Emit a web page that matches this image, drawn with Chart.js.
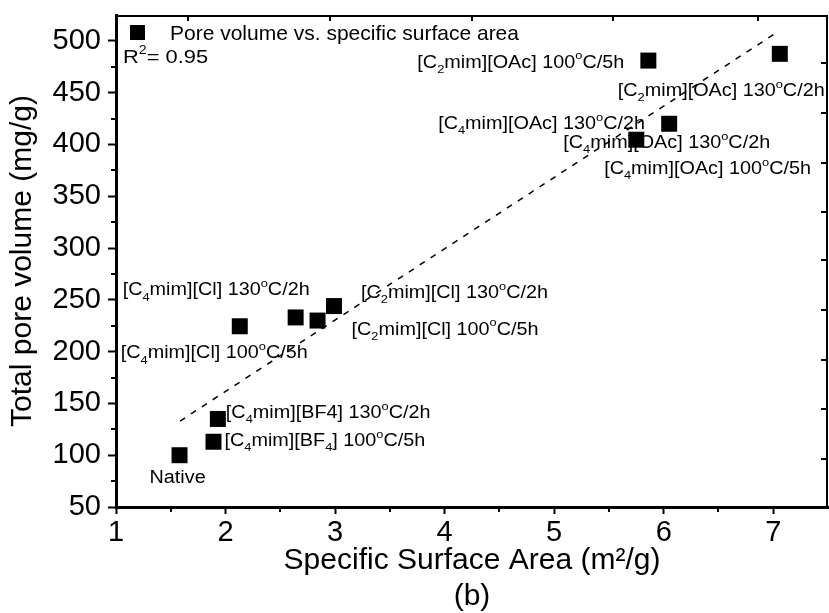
<!DOCTYPE html>
<html>
<head>
<meta charset="utf-8">
<script src="https://cdn.jsdelivr.net/npm/chart.js@4.4.1/dist/chart.umd.min.js"></script>
<style>
  html, body { margin: 0; padding: 0; background: #fff; }
  #wrap { width: 829px; height: 613px; }
</style>
</head>
<body>
<div id="wrap"><canvas id="chart" width="829" height="613"></canvas></div>
<script>
// data
const surfaceArea = [1.58, 1.89, 1.93, 2.13, 2.64, 2.84, 2.99, 5.86, 7.06, 6.05, 5.75];
const poreVolume  = [100, 113, 135, 224.5, 233, 230, 244, 481, 487.5, 420, 404.6];
const fitX = [1.585, 7.03];
const fitY = [133, 508];
const xTicks = [1, 2, 3, 4, 5, 6, 7];
const yTicks = [50, 100, 150, 200, 250, 300, 350, 400, 450, 500];
const xMinor = [1.5, 2.5, 3.5, 4.5, 5.5, 6.5];
const yMinor = [75, 125, 175, 225, 275, 325, 375, 425, 475];
const topTicks = [1.66, 2.95, 4.25, 5.54, 6.86];
const rightTicks = [478.7, 430.4, 382, 334.6, 288, 240, 191.5, 145, 96.7];

// point labels: text, index of the point it belongs to
const labelText = [
  'Native',
  '[C_{4}mim][BF_{4}] 100^{o}C/5h',
  '[C_{4}mim][BF4] 130^{o}C/2h',
  '[C_{4}mim][Cl] 100^{o}C/5h',
  '[C_{4}mim][Cl] 130^{o}C/2h',
  '[C_{2}mim][Cl] 100^{o}C/5h',
  '[C_{2}mim][Cl] 130^{o}C/2h',
  '[C_{2}mim][OAc] 100^{o}C/5h',
  '[C_{2}mim][OAc] 130^{o}C/2h',
  '[C_{4}mim][OAc] 130^{o}C/2h',
  '[C_{4}mim][OAc] 130^{o}C/2h',
  '[C_{4}mim][OAc] 100^{o}C/5h'
];
const labelPoint = [0, 1, 2, 3, 4, 5, 6, 7, 8, 9, 10, 9];
// label offset from its point in px (left edge, baseline)
const labelOffset = [
  [-30, 28], [11, 4], [8, -1], [-119, 32], [-173, -22], [34, 14],
  [27, -8], [-231, 7], [-162, 42], [-231, 5], [-73, 8], [-65, 50]
];

const FONT = '"Liberation Sans", Arial, Helvetica, sans-serif';

function drawRich(ctx, str, x, y, size, sx) {
  ctx.save();
  ctx.translate(x, y);
  ctx.scale(sx, 1);
  ctx.fillStyle = '#000';
  ctx.textBaseline = 'alphabetic';
  ctx.textAlign = 'left';
  let cx = 0;
  const parts = str.split(/(_\{[^}]*\}|\^\{[^}]*\})/);
  for (const p of parts) {
    if (!p) continue;
    let txt = p, fs = size, dy = 0;
    if (p[0] === '_') { txt = p.slice(2, -1); fs = size * 0.65; dy = size * 0.3; }
    else if (p[0] === '^') { txt = p.slice(2, -1); fs = size * 0.65; dy = -size * 0.45; }
    ctx.font = fs + 'px ' + FONT;
    ctx.fillText(txt, cx, dy);
    cx += ctx.measureText(txt).width;
  }
  ctx.restore();
}

const decor = {
  id: 'decor',
  beforeDatasetsDraw(chart) {
    const ctx = chart.ctx;
    const xs = chart.scales.x, ys = chart.scales.y;
    labelText.forEach((t, i) => {
      const k = labelPoint[i];
      const px = xs.getPixelForValue(surfaceArea[k]);
      const py = ys.getPixelForValue(poreVolume[k]);
      drawRich(ctx, t, px + labelOffset[i][0], py + labelOffset[i][1], 18, 1.1);
    });
  },
  afterDraw(chart) {
    const ctx = chart.ctx;
    const a = chart.chartArea;
    const xs = chart.scales.x, ys = chart.scales.y;
    ctx.save();
    ctx.strokeStyle = '#000';
    // frame top / right
    ctx.lineWidth = 2;
    ctx.beginPath();
    ctx.moveTo(a.left, a.top + 1);
    ctx.lineTo(a.right - 1, a.top + 1);
    ctx.lineTo(a.right - 1, a.bottom);
    ctx.stroke();
    // minor ticks
    ctx.beginPath();
    yMinor.forEach(v => {
      const p = Math.round(ys.getPixelForValue(v));
      ctx.moveTo(a.left, p); ctx.lineTo(a.left - 5, p);
    });
    xMinor.forEach(v => {
      const p = Math.round(xs.getPixelForValue(v));
      ctx.moveTo(p, a.bottom); ctx.lineTo(p, a.bottom + 5);
    });
    topTicks.forEach(v => {
      const p = Math.round(xs.getPixelForValue(v));
      ctx.moveTo(p, a.top); ctx.lineTo(p, a.top + 6);
    });
    rightTicks.forEach(v => {
      const p = Math.round(ys.getPixelForValue(v));
      ctx.moveTo(a.right, p); ctx.lineTo(a.right - 7, p);
    });
    ctx.stroke();
    // legend
    ctx.fillStyle = '#000';
    ctx.fillRect(a.left + 14, a.top + 10, 15, 15);
    ctx.font = '21px ' + FONT;
    ctx.textBaseline = 'alphabetic';
    ctx.fillText('Pore volume vs. specific surface area', a.left + 54, a.top + 25);
    drawRich(ctx, 'R^{2}= 0.95', a.left + 7, a.top + 48, 19, 1.15);
    ctx.restore();
  }
};

new Chart(document.getElementById('chart'), {
  type: 'scatter',
  data: {
    datasets: [
      {
        label: 'Pore volume vs. specific surface area',
        data: surfaceArea.map((x, i) => ({ x: x, y: poreVolume[i] })),
        pointStyle: 'rect',
        pointRadius: 11.3,
        pointBorderWidth: 0,
        backgroundColor: '#000',
        borderColor: '#000'
      },
      {
        label: 'fit',
        data: fitX.map((x, i) => ({ x: x, y: fitY[i] })),
        showLine: true,
        pointRadius: 0,
        borderColor: '#000',
        borderWidth: 1.5,
        borderDash: [6, 7]
      }
    ]
  },
  options: {
    responsive: false,
    devicePixelRatio: 1,
    animation: false,
    layout: { autoPadding: false, padding: { left: 0, right: 1, top: 15, bottom: 0 } },
    plugins: { legend: { display: false }, tooltip: { enabled: false } },
    scales: {
      x: {
        type: 'linear', position: 'bottom', min: 1, max: 7.5,
        border: { display: true, color: '#000', width: 3 },
        grid: { drawOnChartArea: false, drawTicks: true, tickLength: 7, tickWidth: 2, tickColor: '#000' },
        afterBuildTicks: s => { s.ticks = xTicks.map(v => ({ value: v })); },
        afterFit: s => { s.height = 106; s.paddingLeft = 0; s.paddingRight = 0; },
        ticks: { color: '#000', font: { family: FONT, size: 29 }, padding: 2, maxRotation: 0, autoSkip: false },
        title: {
          display: true, color: '#000',
          text: ['Specific Surface Area (m\u00B2/g)', '(b)'],
          font: { family: FONT, size: 30, lineHeight: 1.2 },
          padding: { top: 0, bottom: -2 }
        }
      },
      y: {
        type: 'linear', position: 'left', min: 50, max: 525,
        border: { display: true, color: '#000', width: 3 },
        grid: { drawOnChartArea: false, drawTicks: true, tickLength: 8, tickWidth: 2, tickColor: '#000' },
        afterBuildTicks: s => { s.ticks = yTicks.map(v => ({ value: v })); },
        afterFit: s => { s.width = 116; s.paddingTop = 0; s.paddingBottom = 0; },
        ticks: { color: '#000', font: { family: FONT, size: 29 }, padding: 7, autoSkip: false },
        title: {
          display: true, color: '#000',
          text: 'Total pore volume (mg/g)',
          font: { family: FONT, size: 30, lineHeight: 1.2 },
          padding: { top: 5, bottom: 0 }
        }
      }
    }
  },
  plugins: [decor]
});
</script>
</body>
</html>
